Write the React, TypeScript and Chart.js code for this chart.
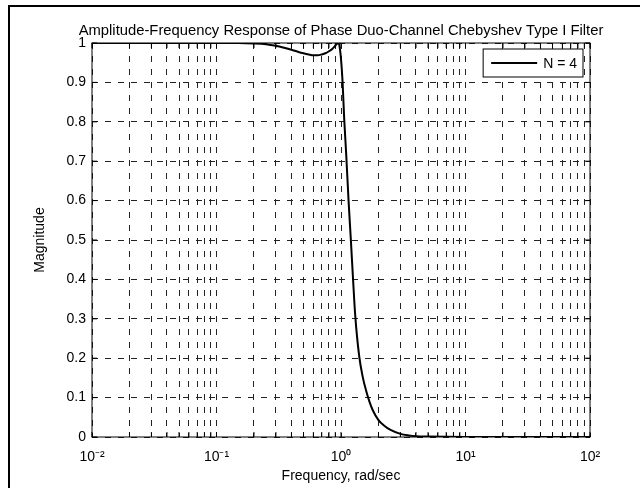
import React, { useEffect, useRef } from 'react';
import { Chart, registerables } from 'chart.js';

Chart.register(...registerables);

const chartTitle = 'Amplitude-Frequency Response of Phase Duo-Channel Chebyshev Type I Filter';
const xAxisTitle = 'Frequency, rad/sec';
const yAxisTitle = 'Magnitude';
const seriesLabel = 'N = 4';

const frequencies = [
  0.01, 0.05, 0.1, 0.15, 0.2, 0.25, 0.3, 0.35, 0.4, 0.45, 0.5, 0.55, 0.6, 0.65, 0.7, 0.75, 0.8,
  0.85, 0.9, 0.93, 0.96, 0.98, 1.0, 1.03, 1.06, 1.1, 1.15, 1.2, 1.25, 1.3, 1.4, 1.5, 1.6, 1.7,
  1.8, 2.0, 2.2, 2.5, 3.0, 3.5, 4.0, 5.0, 10, 100,
];
const magnitudes = [
  1, 1, 1, 1, 0.999, 0.997, 0.993, 0.988, 0.983, 0.978, 0.974, 0.971, 0.969, 0.969, 0.971, 0.974,
  0.979, 0.985, 0.993, 0.998, 1.0, 0.985, 0.96, 0.9, 0.81, 0.72, 0.6, 0.5, 0.4, 0.31, 0.205, 0.15,
  0.115, 0.088, 0.068, 0.043, 0.03, 0.018, 0.008, 0.004, 0.002, 0.001, 0, 0,
];

const decadeValues = [0.01, 0.1, 1, 10, 100];
const decadeLabels = ['10⁻²', '10⁻¹', '10⁰', '10¹', '10²'];
const minorMultipliers = [2, 3, 4, 5, 6, 7, 8, 9];
const yTickValues = [0, 0.1, 0.2, 0.3, 0.4, 0.5, 0.6, 0.7, 0.8, 0.9, 1];
const yTickLabels = ['0', '0.1', '0.2', '0.3', '0.4', '0.5', '0.6', '0.7', '0.8', '0.9', '1'];

const FONT = "'Liberation Sans', Arial, Helvetica, sans-serif";
const FS = 14;
const TITLE_FS = 14.8;
const GRID_DASH = [6, 7];

const decorPlugin = {
  id: 'decor',
  beforeDraw(chart: any) {
    const { ctx } = chart;
    ctx.save();
    ctx.fillStyle = '#fff';
    ctx.fillRect(0, 0, chart.width, chart.height);
    ctx.restore();
  },
  afterDraw(chart: any) {
    const { ctx, chartArea: a, scales } = chart;
    ctx.save();
    ctx.strokeStyle = '#000';
    ctx.lineWidth = 1;
    ctx.setLineDash([]);
    ctx.strokeRect(a.left, a.top, a.right - a.left, a.bottom - a.top);
    const tl = 5;
    ctx.beginPath();
    scales.x.ticks.forEach((t: any) => {
      const px = scales.x.getPixelForValue(t.value);
      ctx.moveTo(px, a.bottom);
      ctx.lineTo(px, a.bottom - tl);
      ctx.moveTo(px, a.top);
      ctx.lineTo(px, a.top + tl);
    });
    scales.y.ticks.forEach((t: any) => {
      const py = scales.y.getPixelForValue(t.value);
      ctx.moveTo(a.left, py);
      ctx.lineTo(a.left + tl, py);
      ctx.moveTo(a.right, py);
      ctx.lineTo(a.right - tl, py);
    });
    ctx.stroke();

    // title, centred over the axes box
    ctx.fillStyle = '#000';
    ctx.font = `${TITLE_FS}px ${FONT}`;
    ctx.textAlign = 'center';
    ctx.textBaseline = 'middle';
    ctx.fillText(chartTitle, (a.left + a.right) / 2, a.top - 12);

    // legend
    const ds = chart.data.datasets[0];
    ctx.font = `${FS}px ${FONT}`;
    const tw = ctx.measureText(ds.label).width;
    const lineLen = 46;
    const w = 8 + lineLen + 6 + tw + 6;
    const h = 28;
    const bx = a.right - 7 - w;
    const by = a.top + 6;
    ctx.fillStyle = '#fff';
    ctx.fillRect(bx, by, w, h);
    ctx.strokeStyle = '#000';
    ctx.lineWidth = 1;
    ctx.strokeRect(bx, by, w, h);
    ctx.beginPath();
    ctx.strokeStyle = ds.borderColor;
    ctx.lineWidth = 2;
    ctx.moveTo(bx + 8, by + h / 2);
    ctx.lineTo(bx + 8 + lineLen, by + h / 2);
    ctx.stroke();
    ctx.fillStyle = '#000';
    ctx.textBaseline = 'middle';
    ctx.textAlign = 'left';
    ctx.fillText(ds.label, bx + 8 + lineLen + 6, by + h / 2 + 1);

    // outer frame
    ctx.strokeStyle = '#000';
    ctx.lineWidth = 2;
    ctx.beginPath();
    ctx.moveTo(9, chart.height);
    ctx.lineTo(9, 6);
    ctx.lineTo(chart.width, 6);
    ctx.stroke();
    ctx.restore();
  },
};

export default function App() {
  const ref = useRef<HTMLCanvasElement | null>(null);
  useEffect(() => {
    if (!ref.current) return;
    const chart = new Chart(ref.current, {
      type: 'line',
      data: {
        datasets: [
          {
            label: seriesLabel,
            data: frequencies.map((f, i) => ({ x: f, y: magnitudes[i] })),
            borderColor: '#000',
            borderWidth: 2,
            pointRadius: 0,
            cubicInterpolationMode: 'monotone',
            fill: false,
          },
        ],
      },
      options: {
        animation: false,
        responsive: false,
        devicePixelRatio: 1,
        events: [],
        layout: { padding: { top: 43, left: 0, right: 50, bottom: 0 } },
        font: { family: FONT, size: FS },
        color: '#000',
        plugins: {
          legend: { display: false },
          tooltip: { enabled: false },
          title: { display: false },
        },
        scales: {
          x: {
            type: 'logarithmic',
            min: 0.01,
            max: 100,
            afterBuildTicks: (scale: any) => {
              const vals: number[] = [];
              decadeValues.forEach((d, i) => {
                vals.push(d);
                if (i < decadeValues.length - 1) minorMultipliers.forEach((m) => vals.push(d * m));
              });
              scale.ticks = vals.map((v) => ({ value: v }));
            },
            afterFit: (scale: any) => {
              scale.height = 51;
            },
            ticks: {
              autoSkip: false,
              maxRotation: 0,
              minRotation: 0,
              padding: 12,
              color: '#000',
              font: { family: FONT, size: FS },
              callback: (value: any) => {
                const v = Number(value);
                const i = decadeValues.findIndex((d) => Math.abs(d - v) / d < 1e-6);
                return i >= 0 ? decadeLabels[i] : '';
              },
            },
            grid: { color: '#222', lineWidth: 1, drawTicks: false },
            border: { display: false, dash: GRID_DASH },
            title: {
              display: true,
              text: xAxisTitle,
              color: '#000',
              font: { family: FONT, size: FS },
              padding: { top: 0, bottom: 3 },
            },
          },
          y: {
            type: 'linear',
            min: 0,
            max: 1,
            afterBuildTicks: (scale: any) => {
              scale.ticks = yTickValues.map((v) => ({ value: v }));
            },
            afterFit: (scale: any) => {
              scale.width = 92;
            },
            ticks: {
              padding: 6,
              color: '#000',
              font: { family: FONT, size: FS },
              callback: (_v: any, i: number) => yTickLabels[i],
            },
            grid: { color: '#222', lineWidth: 1, drawTicks: false },
            border: { display: false, dash: GRID_DASH },
            title: {
              display: true,
              text: yAxisTitle,
              color: '#000',
              font: { family: FONT, size: FS },
              padding: { top: 32, bottom: 0 },
            },
          },
        },
      } as any,
      plugins: [decorPlugin],
    });
    return () => chart.destroy();
  }, []);
  return (
    <div style={{ position: 'absolute', left: 0, top: 0, width: 640, height: 488 }}>
      <canvas ref={ref} width={640} height={488} style={{ display: 'block' }} />
    </div>
  );
}
